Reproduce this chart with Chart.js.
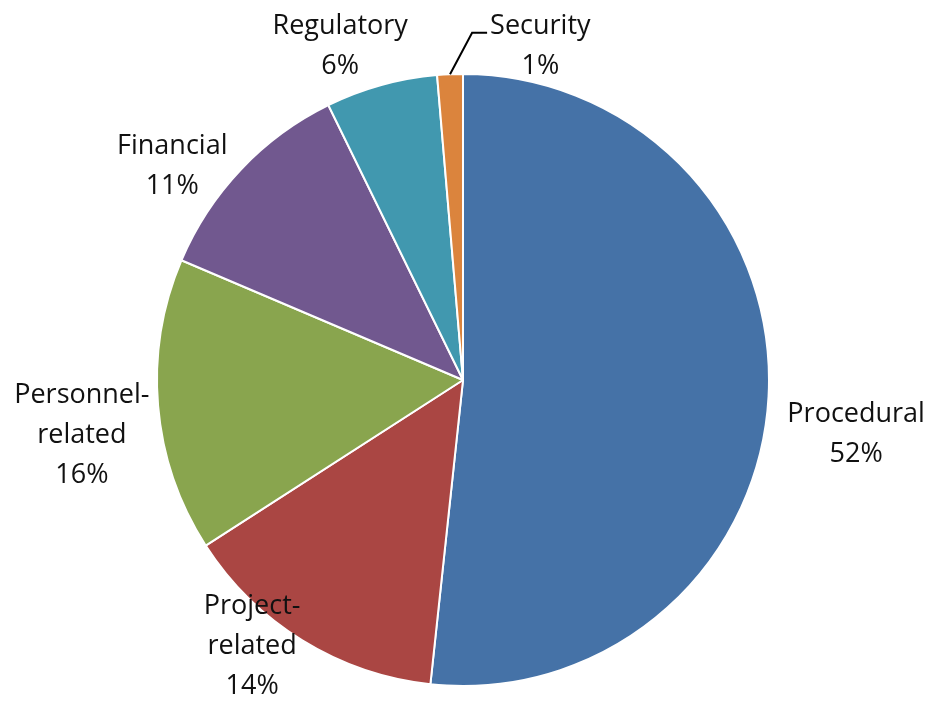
<!DOCTYPE html>
<html><head><meta charset="utf-8">
<script src="https://cdn.jsdelivr.net/npm/chart.js@4.4.1/dist/chart.umd.min.js"></script>
<style>html,body{margin:0;padding:0;background:#fff;overflow:hidden;}</style>
</head><body>
<canvas id="c" width="933" height="702"></canvas>
<script>
const categories = ['Procedural', 'Project-related', 'Personnel-related', 'Financial', 'Regulatory', 'Security'];
const labelLines = [['Procedural'], ['Project-', 'related'], ['Personnel-', 'related'], ['Financial'], ['Regulatory'], ['Security']];
const shares = [51.7, 14.2, 15.5, 11.35, 5.9, 1.35];
const percentLabels = ['52%', '14%', '16%', '11%', '6%', '1%'];
const colors = ['#4572A7', '#AA4643', '#89A54E', '#71588F', '#4198AF', '#DB843D'];

// label placement relative to each slice: angle shift (deg) from slice middle, distance as multiple of radius
const placement = [
  {shift: 4.5, dist: 1.296},
  {shift: 6.9, dist: 1.105},
  {shift: -3.2, dist: 1.258},
  {shift: -6.9, dist: 1.183},
  {shift: -4.6, dist: 1.169},
  {shift: 15.4, dist: 1.126, leader: true}
];

const FONT = '27px "Open Sans"';
const LINE_H = 40;
const CAP_H = 19;

const labelPlugin = {
  id: 'sliceLabels',
  afterDatasetsDraw(chart) {
    const ctx = chart.ctx;
    const meta = chart.getDatasetMeta(0);
    ctx.save();
    ctx.font = FONT;
    ctx.fillStyle = '#111111';
    ctx.textAlign = 'center';
    ctx.textBaseline = 'alphabetic';
    meta.data.forEach((arc, i) => {
      const p = arc.getProps(['x', 'y', 'startAngle', 'endAngle', 'outerRadius'], true);
      const mid = (p.startAngle + p.endAngle) / 2;
      const pl = placement[i];
      const a = mid + pl.shift * Math.PI / 180;
      const cx = p.x + Math.cos(a) * p.outerRadius * pl.dist;
      const cy = p.y + Math.sin(a) * p.outerRadius * pl.dist;
      const lines = labelLines[i].concat([percentLabels[i]]);
      const blockH = CAP_H + (lines.length - 1) * LINE_H;
      const firstBase = cy - blockH / 2 + CAP_H;
      lines.forEach((t, k) => {
        ctx.fillText(t, cx, firstBase + k * LINE_H);
      });
      if (pl.leader) {
        const sx = p.x + Math.cos(mid) * p.outerRadius;
        const sy = p.y + Math.sin(mid) * p.outerRadius;
        const left = cx - ctx.measureText(lines[0]).width / 2;
        const ly = firstBase - 1;
        ctx.strokeStyle = '#000';
        ctx.lineWidth = 2;
        ctx.beginPath();
        ctx.moveTo(sx, sy);
        ctx.lineTo(left - 18, ly);
        ctx.lineTo(left - 3, ly);
        ctx.stroke();
      }
    });
    ctx.restore();
  }
};

new Chart(document.getElementById('c'), {
  type: 'pie',
  data: {
    labels: categories,
    datasets: [{
      data: shares,
      backgroundColor: colors,
      borderColor: '#ffffff',
      borderWidth: 2,
      hoverOffset: 0,
      offset: 0
    }]
  },
  options: {
    responsive: false,
    animation: false,
    devicePixelRatio: 1,
    layout: {padding: {left: 156, right: 163, top: 73, bottom: 15}},
    plugins: {legend: {display: false}, tooltip: {enabled: false}}
  },
  plugins: [labelPlugin]
});
</script>
</body></html>
